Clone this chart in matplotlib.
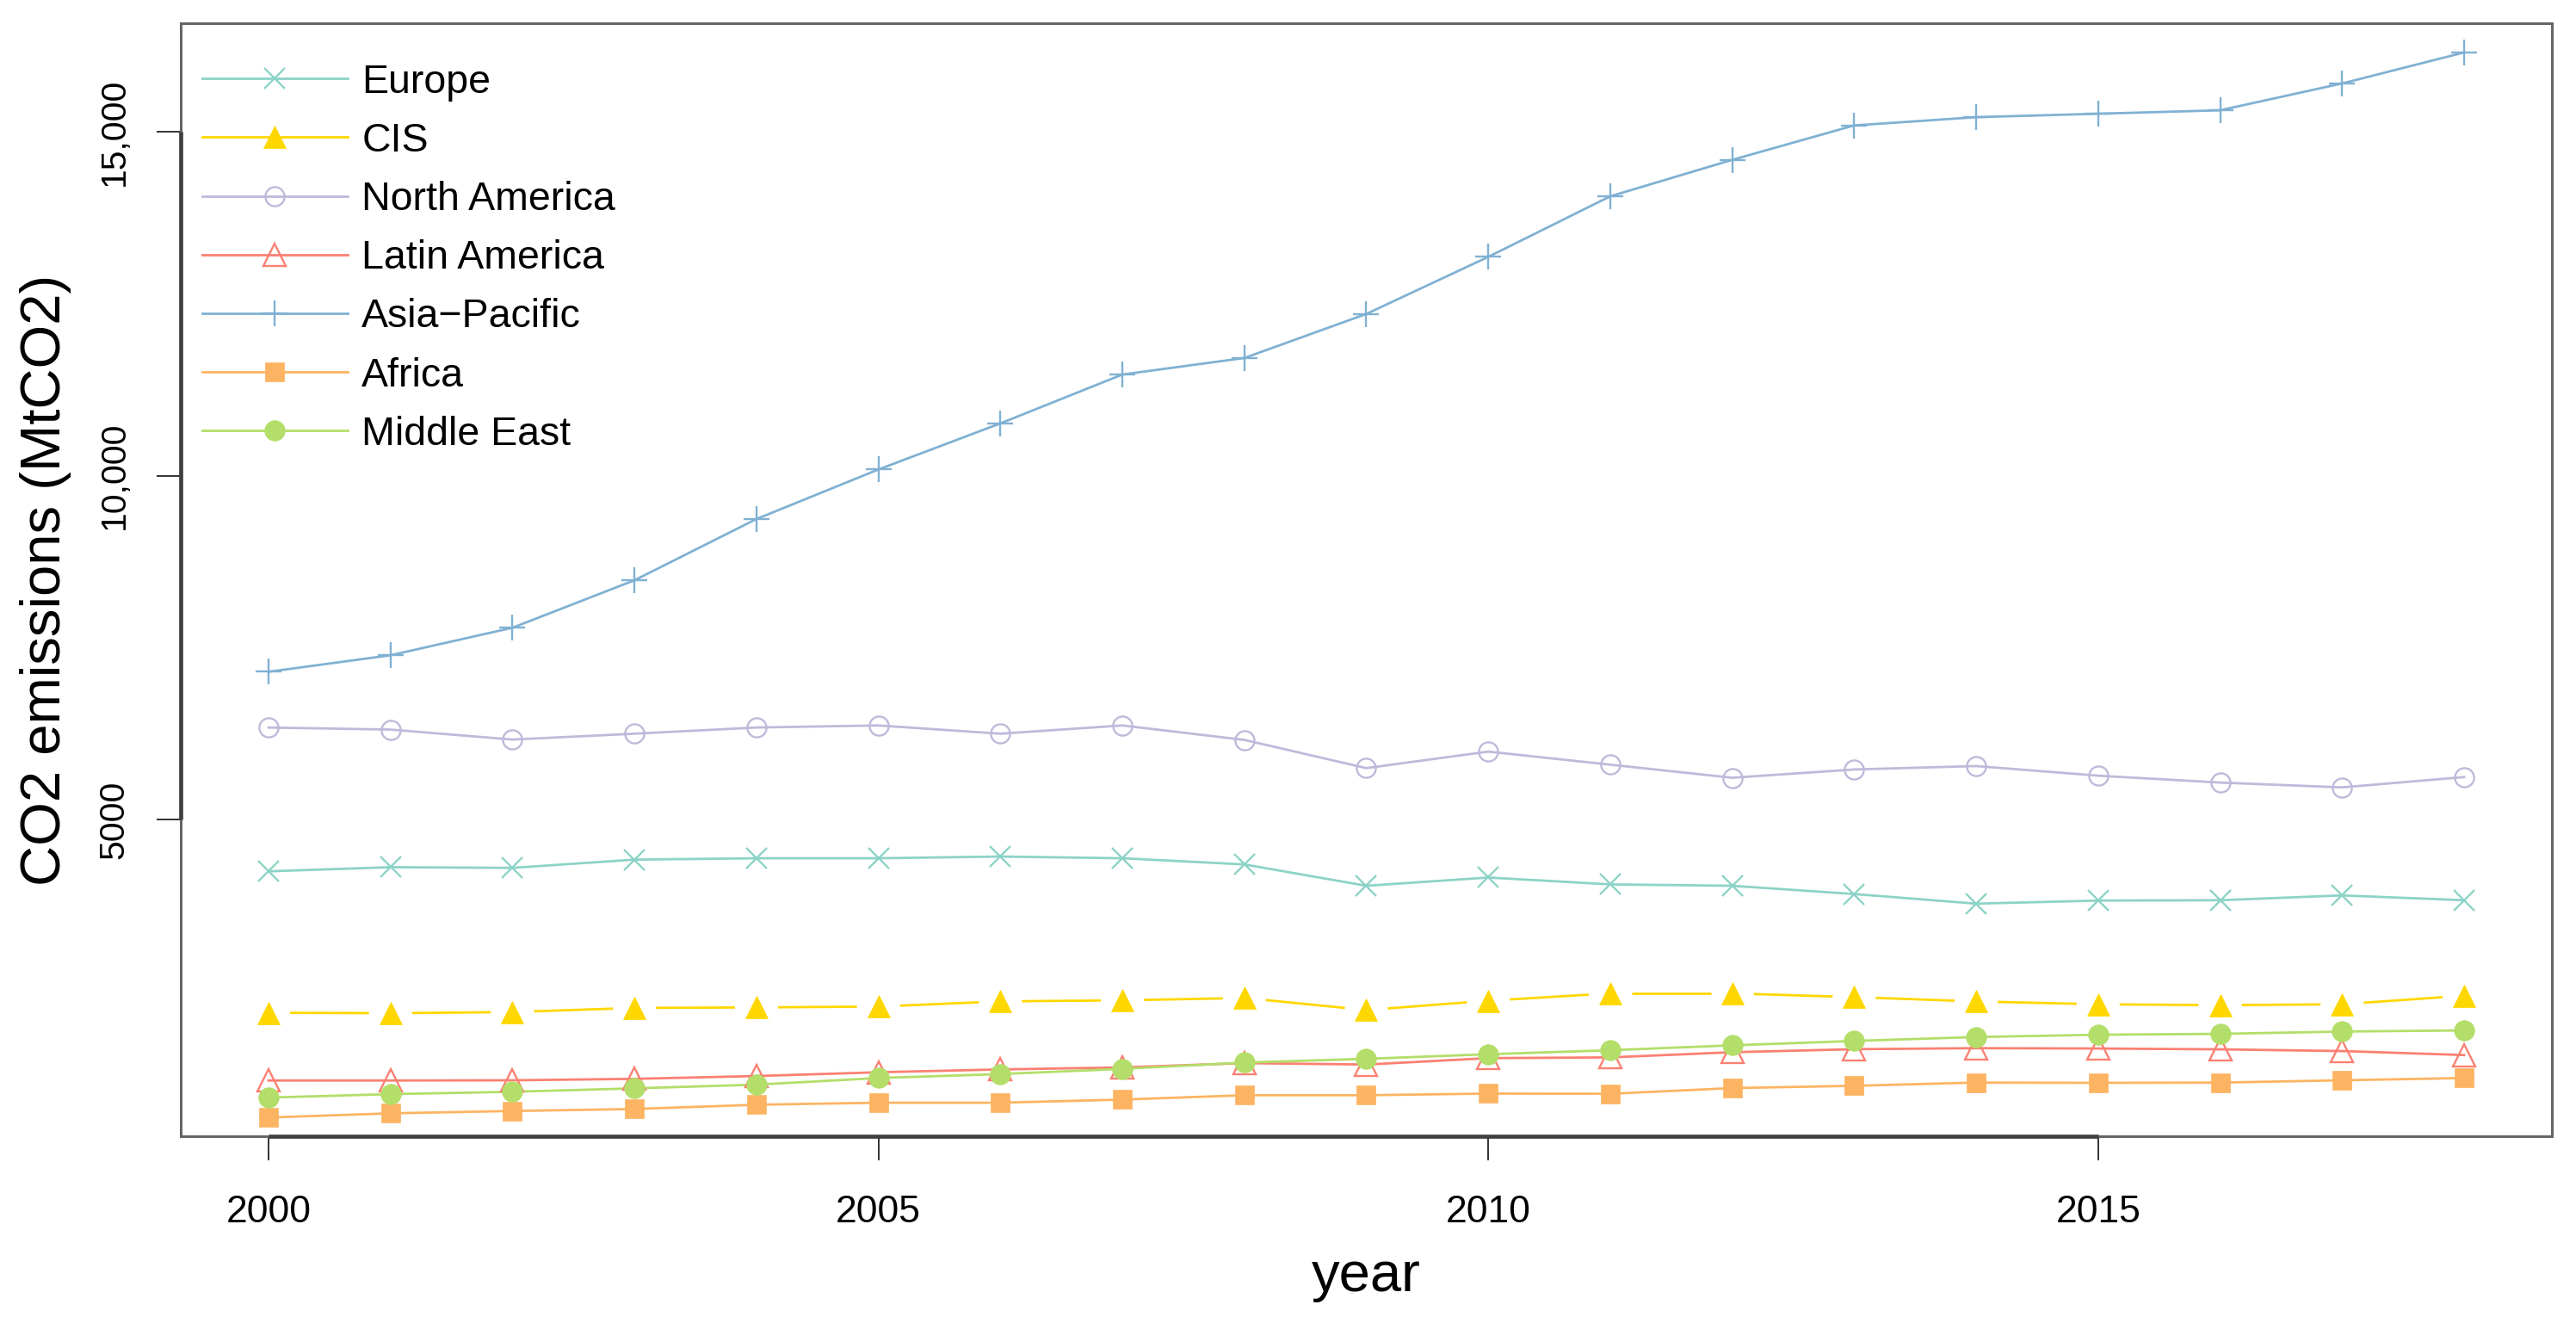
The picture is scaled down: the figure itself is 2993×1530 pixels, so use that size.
import matplotlib
matplotlib.use("Agg")
import matplotlib.pyplot as plt
from matplotlib.lines import Line2D
import numpy as np

years = list(range(2000, 2019))
europe = [4250, 4310, 4300, 4420, 4440, 4440, 4465, 4440, 4350, 4040, 4160, 4060, 4040, 3920, 3780, 3825, 3830, 3900, 3830]
cis = [2195, 2188, 2205, 2265, 2272, 2285, 2360, 2375, 2410, 2234, 2370, 2476, 2476, 2422, 2359, 2318, 2305, 2318, 2443]
north_america = [6340, 6310, 6165, 6250, 6340, 6370, 6250, 6370, 6160, 5750, 5990, 5800, 5610, 5730, 5780, 5640, 5540, 5470, 5620]
latin_america = [1210, 1210, 1213, 1234, 1275, 1330, 1371, 1400, 1463, 1442, 1535, 1546, 1621, 1665, 1680, 1675, 1663, 1638, 1580]
asia_pacific = [7150, 7390, 7790, 8480, 9370, 10090, 10760, 11470, 11710, 12350, 13180, 14060, 14590, 15090, 15210, 15260, 15310, 15700, 16150]
africa = [672, 733, 767, 796, 858, 887, 887, 933, 996, 996, 1020, 1017, 1100, 1133, 1180, 1176, 1180, 1213, 1246]
middle_east = [962, 1012, 1046, 1096, 1150, 1246, 1304, 1379, 1471, 1525, 1592, 1650, 1721, 1785, 1842, 1875, 1888, 1921, 1938]

region_names = ["Europe", "CIS", "North America", "Latin America", "Asia\u2212Pacific", "Africa", "Middle East"]
x_ticks = [2000, 2005, 2010, 2015]
x_tick_labels = ["2000", "2005", "2010", "2015"]
y_ticks = [5000, 10000, 15000]
y_tick_labels = ["5000", "10,000", "15,000"]

plt.rcParams['font.family'] = ['Liberation Sans', 'DejaVu Sans']

series = [europe, cis, north_america, latin_america, asia_pacific, africa, middle_east]
styles = [
    dict(color="#8DD3C7", marker="x", ms=17, mew=1.7, mfc="#8DD3C7"),
    dict(color="#FFD700", marker="^", ms=18.5, mew=0.5, mfc="#FFD700"),
    dict(color="#BEBADA", marker="o", ms=16, mew=1.7, mfc="none"),
    dict(color="#FB8072", marker="^", ms=19, mew=1.7, mfc="none"),
    dict(color="#80B1D3", marker="+", ms=22, mew=1.7, mfc="#80B1D3"),
    dict(color="#FDB462", marker="s", ms=16, mew=0.5, mfc="#FDB462"),
    dict(color="#B3DE69", marker="o", ms=17, mew=0.5, mfc="#B3DE69"),
]
gapped = [False, True, False, False, False, False, False]
LW = 2.0

fig = plt.figure(figsize=(29.93, 15.30), dpi=100)
ax = fig.add_axes([0.07016, 0.13725, 0.92048, 0.8451])
ax.set_xlim(1999.28, 2018.72)
ax.set_ylim(400, 16575)

for vals, st, gap in zip(series, styles, gapped):
    if not gap:
        ax.plot(years, vals, color=st["color"], lw=LW, zorder=2)
    else:
        pts = ax.transData.transform(np.column_stack([years, vals]))
        inv = ax.transData.inverted()
        g = 25.0
        for i in range(len(pts) - 1):
            p0, p1 = pts[i], pts[i + 1]
            d = p1 - p0
            L = np.hypot(*d)
            u = d / L
            a = inv.transform(p0 + u * g)
            b = inv.transform(p1 - u * g)
            ax.plot([a[0], b[0]], [a[1], b[1]], color=st["color"], lw=LW, zorder=2,
                    solid_capstyle="butt")
    ax.plot(years, vals, linestyle="none", marker=st["marker"], ms=st["ms"],
            mew=st["mew"], mec=st["color"], mfc=st["mfc"], zorder=3)

for s in ax.spines.values():
    s.set_color("#666666")
    s.set_linewidth(2.2)
ax.plot([x_ticks[0], x_ticks[-1]], [0, 0], transform=ax.get_xaxis_transform(),
        color="#404040", lw=3.4, clip_on=False, zorder=5, solid_capstyle="butt")
ax.plot([0, 0], [y_ticks[0], y_ticks[-1]], transform=ax.get_yaxis_transform(),
        color="#404040", lw=3.4, clip_on=False, zorder=5, solid_capstyle="butt")

ax.set_xticks(x_ticks, x_tick_labels, fontsize=32)
ax.set_yticks(y_ticks, y_tick_labels, fontsize=29.5, rotation=90, va="center")
ax.tick_params(axis="both", direction="out", length=20, width=1.4, color="#333333")
ax.tick_params(axis="x", pad=29)
ax.tick_params(axis="y", pad=22)

ax.set_xlabel("year", fontsize=47)
ax.set_ylabel("CO2 emissions (MtCO2)", fontsize=47)
ax.xaxis.set_label_coords(0.5, -0.103)
ax.yaxis.set_label_coords(-0.046, 0.5)

handles = [Line2D([], [], color=st["color"], lw=LW, marker=st["marker"], ms=st["ms"],
                  mew=st["mew"], mec=st["color"], mfc=st["mfc"]) for st in styles]
leg = ax.legend(handles, region_names, loc="upper left", bbox_to_anchor=(0.0089, 0.964),
                frameon=False, fontsize=33.5, handlelength=3.64, handletextpad=0.35,
                labelspacing=0.52, borderpad=0, borderaxespad=0, numpoints=1)

fig.savefig("out.png", dpi=100)
